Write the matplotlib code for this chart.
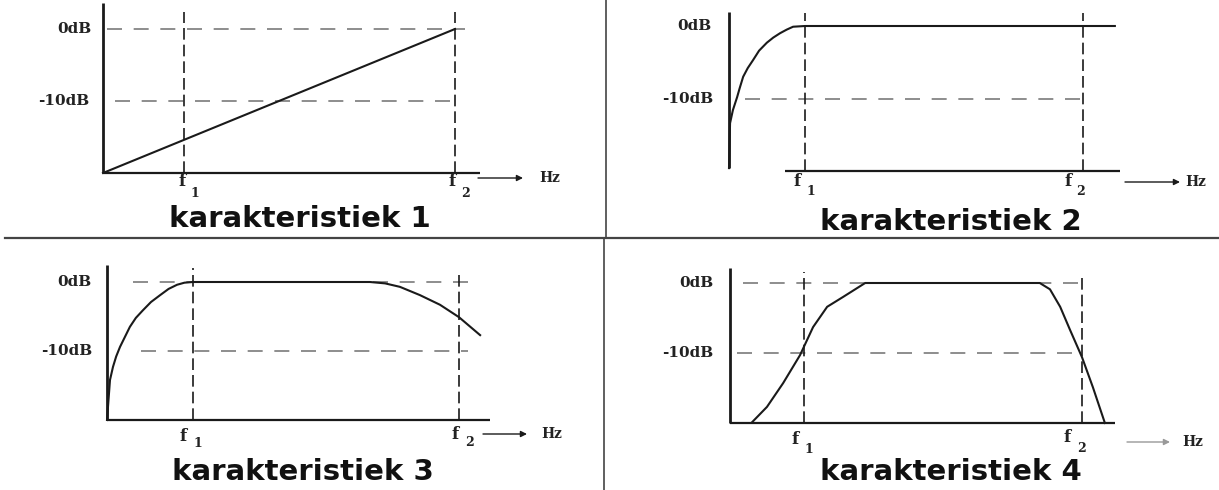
import matplotlib
matplotlib.use('Agg')
import matplotlib.pyplot as plt
from matplotlib.lines import Line2D

W, H = 1219, 490

# frequency in arbitrary units (f2 = 100 in every panel), level in dB
titles = ['karakteristiek 1', 'karakteristiek 2', 'karakteristiek 3', 'karakteristiek 4']
f1 = [23.0, 21.5, 24.4, 21.0]
f2 = [100.0, 100.0, 100.0, 100.0]
level_db = [0, -10]
level_labels = ['0dB', '-10dB']

# characteristic curves
k1_f = [0, 100]
k1_db = [-20, 0]

k2_f = [0, 0.3, 1.1, 2.3, 3.0, 4.0, 5.3, 6.8, 8.5, 10.7, 12.5, 14.4, 16.3, 18.1, 21.5, 109]
k2_db = [-19.6, -13.4, -11.6, -9.8, -8.6, -7.0, -5.8, -4.7, -3.4, -2.3, -1.6, -1.0, -0.5, -0.1, 0, 0]

k3_f = [0, 0.85, 1.7, 2.6, 3.7, 6.5, 8.2, 10.2, 12.5, 15.1, 17.5, 19.9, 22.0, 24.4,
        74.7, 79, 83.2, 88.9, 94.6, 100, 106]
k3_db = [-20, -14.2, -12.3, -10.8, -9.4, -6.5, -5.2, -4.1, -2.9, -1.9, -1.0, -0.4, -0.1, 0,
         0, -0.2, -0.7, -1.9, -3.3, -5.1, -7.7]

k4_f = [6.25, 10.5, 15.1, 19.9, 23.6, 27.6, 32.1, 38.4, 88, 90.9, 93.8, 96.6, 100, 103.1, 106.5]
k4_db = [-19.9, -17.7, -14.3, -10.3, -6.3, -3.4, -2.0, 0, 0, -0.9, -3.4, -6.7, -10.6, -14.9, -20]

curves_f = [k1_f, k2_f, k3_f, k4_f]
curves_db = [k1_db, k2_db, k3_db, k4_db]

# axis extents in data units
yaxis_top = [3.6, 1.9, 2.5, 2.1]
yaxis_bottom = [-20, -19.6, -20, -20]
xaxis_start = [0, 15.8, 0, 0]
xaxis_end = [107, 110.5, 108.8, 109.4]
fline_top = [(2.4, 2.4), (1.8, 1.8), (2.0, 1.3), (1.6, 1.1)]
# dashed level lines: (level, start, end)
level_lines = [
    [(0, 1.1, 102.8), (-10, 3.4, 100.6)],
    [(-10, 4.5, 101.4)],
    [(0, 7.4, 102.6), (-10, 9.7, 102.6)],
    [(0, 3.7, 100), (-10, 2.0, 99)],
]

# ---- layout (pixels) ----
# y-axis x, f2 x, 0dB y, baseline y
frames = [(103, 455, 29, 173), (729, 1083, 26, 171), (107, 459, 282, 420), (730, 1082, 283, 423)]
label_gap = [(11, 14), (17, 16), (15, 15), (17, 17)]
# f label offsets: (dx f, dx sub, dy f, dy sub) for f1 and f2
f_off = [
    [(-2, 11, 8, 20), (-3, 11, 8, 20)],
    [(-8, 6, 10, 20), (-15, -2, 10, 20)],
    [(-10, 5, 16, 23), (-4, 10, 14, 22)],
    [(-9, 5, 16, 26), (-15, -1, 14, 25)],
]
arrows = [(478, 523, 178, 550), (1125, 1180, 182, 1196), (483, 527, 434, 552), (1127, 1170, 442, 1193)]
title_pos = [(300, 227), (951, 230), (303, 480), (951, 480)]


def fx(px):
    return px / W


def fy(py):
    return 1 - py / H


fig = plt.figure(figsize=(W / 100, H / 100), dpi=100)
fig.patch.set_facecolor('white')

ink = '#1a1a1a'
serif = 'DejaVu Serif'

for i in range(4):
    x0, xf2, y0, yb = frames[i]
    sx = (xf2 - x0) / 100.0
    sy = (yb - y0) / 20.0
    xlo, xhi, ylo, yhi = -45, 140, -30, 6
    left = x0 + xlo * sx
    right = x0 + xhi * sx
    top = y0 - yhi * sy
    bottom = y0 - ylo * sy
    ax = fig.add_axes([fx(left), fy(bottom), (right - left) / W, (bottom - top) / H])
    ax.set_xlim(xlo, xhi)
    ax.set_ylim(ylo, yhi)
    ax.axis('off')
    ax.patch.set_alpha(0)

    # axes
    ax.plot([0, 0], [yaxis_bottom[i], yaxis_top[i]], color=ink, lw=2.0, solid_capstyle='butt')
    ax.plot([xaxis_start[i], xaxis_end[i]], [-20, -20], color=ink, lw=1.6, solid_capstyle='butt')

    # dashed level lines
    for lev, a, b in level_lines[i]:
        ax.plot([a, b], [lev, lev], color='#7a7a7a', lw=1.2, dashes=(9, 7))

    # dashed frequency lines
    for f, t in zip([f1[i], f2[i]], fline_top[i]):
        ax.plot([f, f], [-20, t], color=ink, lw=1.2, dashes=(7, 3))

    # curve
    ax.plot(curves_f[i], curves_db[i], color=ink, lw=1.5, solid_joinstyle='round')

    # level labels
    for lev, lab, gap in zip(level_db, level_labels, label_gap[i]):
        ax.annotate(lab, xy=(0, lev), xytext=(-gap, 0), textcoords='offset pixels',
                    ha='right', va='center', fontsize=11, fontweight='bold',
                    family=serif, color='#222222')

    # f1 / f2 labels
    for f, sub, off in zip([f1[i], f2[i]], ['1', '2'], f_off[i]):
        dxf, dxs, dyf, dys = off
        ax.annotate('f', xy=(f, -20), xytext=(dxf, -dyf), textcoords='offset pixels',
                    ha='center', va='center', fontsize=12, fontweight='bold',
                    family=serif, color='#222222')
        ax.annotate(sub, xy=(f, -20), xytext=(dxs, -dys), textcoords='offset pixels',
                    ha='center', va='center', fontsize=9, fontweight='bold',
                    family=serif, color='#222222')

    # arrow to Hz
    a1, a2, ay, hzx = arrows[i]
    acol = '#999999' if i == 3 else ink
    ax.annotate('', xy=(fx(a2), fy(ay)), xytext=(fx(a1), fy(ay)),
                xycoords='figure fraction', textcoords='figure fraction',
                arrowprops=dict(arrowstyle='-|>', lw=1.0, color=acol,
                                mutation_scale=9, shrinkA=0, shrinkB=0))
    fig.text(fx(hzx), fy(ay), 'Hz', ha='center', va='center', fontsize=10,
             fontweight='bold', family=serif, color='#222222')

    # title
    tx, ty = title_pos[i]
    fig.text(fx(tx), fy(ty), titles[i], ha='center', va='baseline', fontsize=21,
             fontweight='bold', family='DejaVu Sans', color='#111111')

# frame dividers
fig.add_artist(Line2D([fx(5), fx(1219)], [fy(238), fy(238)], color='#444444', lw=1.6))
fig.add_artist(Line2D([fx(606), fx(606)], [fy(0), fy(238)], color='#444444', lw=1.2))
fig.add_artist(Line2D([fx(604), fx(604)], [fy(238), fy(490)], color='#444444', lw=1.2))

fig.savefig('out.png', dpi=100)
